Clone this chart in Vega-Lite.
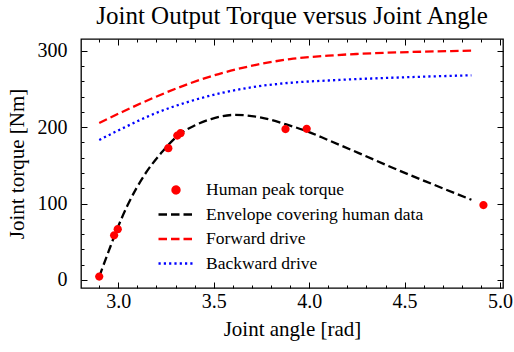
{
  "$schema": "https://vega.github.io/schema/vega-lite/v6.json",
  "width": 422,
  "height": 249,
  "autosize": {"type": "none"},
  "padding": {"left": 81, "top": 39, "right": 11, "bottom": 64},
  "background": "white",
  "title": {"text": "Joint Output Torque versus Joint Angle", "font": "Liberation Serif", "fontSize": 25, "fontWeight": "normal", "color": "black", "anchor": "middle", "offset": 10},
  "config": {
    "view": {"stroke": "black", "strokeWidth": 1.3},
    "axis": {"grid": false, "domain": false, "tickColor": "black", "tickWidth": 1, "labelColor": "black", "titleColor": "black", "labelFont": "Liberation Serif", "titleFont": "Liberation Serif", "titleFontWeight": "normal", "labelFontSize": 20, "titleFontSize": 21}
  },
  "datasets": {
    "points": [
      {"series": "Human peak torque", "angle": 2.900, "torque": 4.5},
      {"series": "Human peak torque", "angle": 2.978, "torque": 58.5},
      {"series": "Human peak torque", "angle": 2.997, "torque": 66.5},
      {"series": "Human peak torque", "angle": 3.262, "torque": 172.5},
      {"series": "Human peak torque", "angle": 3.309, "torque": 189},
      {"series": "Human peak torque", "angle": 3.326, "torque": 192},
      {"series": "Human peak torque", "angle": 3.876, "torque": 197.4},
      {"series": "Human peak torque", "angle": 3.987, "torque": 197.8},
      {"series": "Human peak torque", "angle": 4.913, "torque": 98}
    ],
    "curves": [
      {"series": "Envelope covering human data", "angle": 2.900, "torque": 4.5},
      {"series": "Envelope covering human data", "angle": 2.950, "torque": 38},
      {"series": "Envelope covering human data", "angle": 2.988, "torque": 63},
      {"series": "Envelope covering human data", "angle": 3.049, "torque": 98},
      {"series": "Envelope covering human data", "angle": 3.136, "torque": 137},
      {"series": "Envelope covering human data", "angle": 3.224, "torque": 166},
      {"series": "Envelope covering human data", "angle": 3.320, "torque": 190.5},
      {"series": "Envelope covering human data", "angle": 3.399, "torque": 202},
      {"series": "Envelope covering human data", "angle": 3.486, "torque": 210.5},
      {"series": "Envelope covering human data", "angle": 3.609, "torque": 216},
      {"series": "Envelope covering human data", "angle": 3.749, "torque": 212.5},
      {"series": "Envelope covering human data", "angle": 3.880, "torque": 203.5},
      {"series": "Envelope covering human data", "angle": 3.990, "torque": 194.5},
      {"series": "Envelope covering human data", "angle": 4.100, "torque": 183},
      {"series": "Envelope covering human data", "angle": 4.260, "torque": 166},
      {"series": "Envelope covering human data", "angle": 4.440, "torque": 146.5},
      {"series": "Envelope covering human data", "angle": 4.610, "torque": 129},
      {"series": "Envelope covering human data", "angle": 4.850, "torque": 105},
      {"series": "Forward drive", "angle": 2.900, "torque": 205.5},
      {"series": "Forward drive", "angle": 3.023, "torque": 220.2},
      {"series": "Forward drive", "angle": 3.198, "torque": 239.8},
      {"series": "Forward drive", "angle": 3.372, "torque": 257},
      {"series": "Forward drive", "angle": 3.547, "torque": 271},
      {"series": "Forward drive", "angle": 3.722, "torque": 281.5},
      {"series": "Forward drive", "angle": 3.900, "torque": 289},
      {"series": "Forward drive", "angle": 4.100, "torque": 293.5},
      {"series": "Forward drive", "angle": 4.247, "torque": 295.7},
      {"series": "Forward drive", "angle": 4.400, "torque": 297.3},
      {"series": "Forward drive", "angle": 4.597, "torque": 298.7},
      {"series": "Forward drive", "angle": 4.850, "torque": 300},
      {"series": "Backward drive", "angle": 2.900, "torque": 183.2},
      {"series": "Backward drive", "angle": 3.023, "torque": 198.5},
      {"series": "Backward drive", "angle": 3.198, "torque": 218.5},
      {"series": "Backward drive", "angle": 3.372, "torque": 233.5},
      {"series": "Backward drive", "angle": 3.547, "torque": 245},
      {"series": "Backward drive", "angle": 3.722, "torque": 253},
      {"series": "Backward drive", "angle": 3.900, "torque": 258},
      {"series": "Backward drive", "angle": 4.100, "torque": 261},
      {"series": "Backward drive", "angle": 4.247, "torque": 262.8},
      {"series": "Backward drive", "angle": 4.400, "torque": 264.3},
      {"series": "Backward drive", "angle": 4.597, "torque": 266},
      {"series": "Backward drive", "angle": 4.850, "torque": 267.8}
    ]
  },
  "layer": [
    {
      "data": {"name": "curves"},
      "transform": [{"filter": "datum.series === 'Envelope covering human data'"}],
      "mark": {"type": "line", "strokeWidth": 2.3, "interpolate": "monotone", "strokeCap": "butt"},
      "encoding": {
        "x": {"field": "angle", "type": "quantitative", "scale": {"domain": [2.8045, 5.0155], "nice": false, "zero": false},
              "axis": {"orient": "bottom", "title": "Joint angle [rad]", "values": [3.0, 3.5, 4.0, 4.5, 5.0], "format": ".1f", "tickSize": -6, "labelPadding": 9, "titlePadding": 7}},
        "y": {"field": "torque", "type": "quantitative", "scale": {"domain": [-10.5, 315.3], "nice": false, "zero": false},
              "axis": {"orient": "left", "title": "Joint torque [Nm]", "values": [0, 100, 200, 300], "tickSize": -6, "labelPadding": 20, "titlePadding": 10}},
        "color": {"field": "series", "type": "nominal",
                  "scale": {"domain": ["Human peak torque", "Envelope covering human data", "Forward drive", "Backward drive"], "range": ["#ff0000", "#000000", "#ff0000", "#0000ff"]},
                  "legend": {"orient": "none", "legendX": 81, "legendY": 137, "title": null, "padding": 0, "labelFont": "Liberation Serif", "labelFontSize": 17.5, "labelColor": "black", "labelOffset": 16, "labelLimit": 400, "symbolSize": 625, "symbolStrokeWidth": 2.3, "rowPadding": 1.5,
                             "encode": {"symbols": {"update": {"fill": {"scale": "color", "field": "value"}, "stroke": {"scale": "color", "field": "value"}, "shape": {"scale": "shape", "field": "value"}, "strokeDash": {"scale": "strokeDash", "field": "value"}, "opacity": {"value": 1}}}}}},
        "strokeDash": {"field": "series", "type": "nominal",
                       "scale": {"domain": ["Human peak torque", "Envelope covering human data", "Forward drive", "Backward drive"], "range": [[1, 0], [8.5, 4], [8.5, 4], [2.2, 3.1]]}}
      }
    },
    {
      "data": {"name": "curves"},
      "transform": [{"filter": "datum.series === 'Forward drive'"}],
      "mark": {"type": "line", "strokeWidth": 2.3, "interpolate": "monotone", "strokeCap": "butt"},
      "encoding": {
        "x": {"field": "angle", "type": "quantitative", "scale": {"domain": [2.8045, 5.0155], "nice": false, "zero": false},
              "axis": {"orient": "bottom", "title": null, "labels": false, "values": [2.9, 3.1, 3.2, 3.3, 3.4, 3.6, 3.7, 3.8, 3.9, 4.1, 4.2, 4.3, 4.4, 4.6, 4.7, 4.8, 4.9], "tickSize": -3}},
        "y": {"field": "torque", "type": "quantitative", "scale": {"domain": [-10.5, 315.3], "nice": false, "zero": false},
              "axis": {"orient": "left", "title": null, "labels": false, "values": [20, 40, 60, 80, 120, 140, 160, 180, 220, 240, 260, 280], "tickSize": -3}},
        "color": {"field": "series", "type": "nominal"},
        "strokeDash": {"field": "series", "type": "nominal"}
      }
    },
    {
      "data": {"name": "curves"},
      "transform": [{"filter": "datum.series === 'Backward drive'"}],
      "mark": {"type": "line", "strokeWidth": 2.3, "interpolate": "monotone", "strokeCap": "butt"},
      "encoding": {
        "x": {"field": "angle", "type": "quantitative", "scale": {"domain": [2.8045, 5.0155], "nice": false, "zero": false},
              "axis": {"orient": "top", "title": null, "labels": false, "values": [3.0, 3.5, 4.0, 4.5, 5.0], "tickSize": -6}},
        "y": {"field": "torque", "type": "quantitative", "scale": {"domain": [-10.5, 315.3], "nice": false, "zero": false},
              "axis": {"orient": "right", "title": null, "labels": false, "values": [0, 100, 200, 300], "tickSize": -6}},
        "color": {"field": "series", "type": "nominal"},
        "strokeDash": {"field": "series", "type": "nominal"}
      }
    },
    {
      "data": {"name": "points"},
      "mark": {"type": "point", "filled": true, "opacity": 1, "size": 870},
      "encoding": {
        "x": {"field": "angle", "type": "quantitative", "scale": {"domain": [2.8045, 5.0155], "nice": false, "zero": false},
              "axis": {"orient": "top", "title": null, "labels": false, "values": [2.9, 3.1, 3.2, 3.3, 3.4, 3.6, 3.7, 3.8, 3.9, 4.1, 4.2, 4.3, 4.4, 4.6, 4.7, 4.8, 4.9], "tickSize": -3}},
        "y": {"field": "torque", "type": "quantitative", "scale": {"domain": [-10.5, 315.3], "nice": false, "zero": false},
              "axis": {"orient": "right", "title": null, "labels": false, "values": [20, 40, 60, 80, 120, 140, 160, 180, 220, 240, 260, 280], "tickSize": -3}},
        "color": {"field": "series", "type": "nominal"},
        "shape": {"field": "series", "type": "nominal",
                  "scale": {"domain": ["Human peak torque", "Envelope covering human data", "Forward drive", "Backward drive"],
                            "range": ["M-0.28,0A0.28,0.28,0,1,0,0.28,0A0.28,0.28,0,1,0,-0.28,0Z", "M-1.4,0H1.4", "M-1.4,0H1.4", "M-1.4,0H1.4"]}}
      }
    }
  ],
  "resolve": {"axis": {"x": "independent", "y": "independent"}}
}
